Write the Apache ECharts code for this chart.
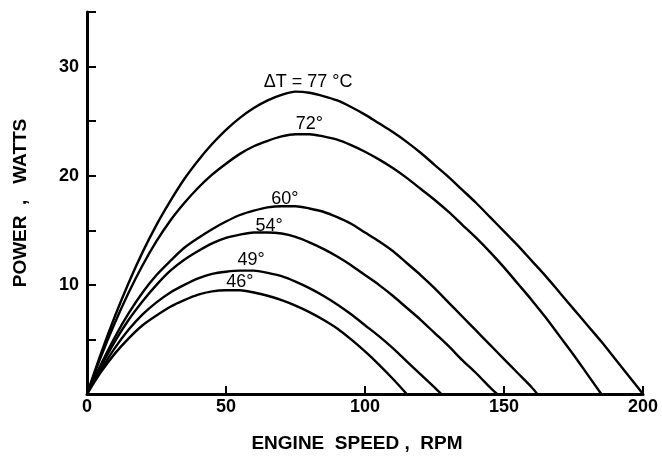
<!DOCTYPE html>
<html>
<head>
<meta charset="utf-8">
<script src="https://cdn.jsdelivr.net/npm/echarts@6/dist/echarts.min.js"></script>
<style>html,body{margin:0;padding:0;background:#fff;}#c{width:662px;height:458px;}</style>
</head>
<body>
<div id="c"></div>
<script>
// Engine speed (RPM) -> power (W), one curve per temperature difference
const speeds = [0,5,10,15,20,25,30,35,40,45,50,55,60,65,70,75,80,85,90,95,100,105,110,115,120,125,130,135,140,145,150,155,160,165,170,175,180,185,190,195,200];
const p77 = [0,3.7,7.1,10.2,13.0,15.5,17.7,19.7,21.4,22.9,24.2,25.3,26.2,26.9,27.4,27.7,27.6,27.3,26.9,26.3,25.6,24.8,24.0,23.1,22.1,21.0,19.9,18.7,17.5,16.2,14.9,13.6,12.2,10.8,9.3,7.8,6.3,4.8,3.2,1.6,0];
const p72 = [0,3.4,6.5,9.3,11.8,14.0,15.9,17.5,18.9,20.1,21.1,22.0,22.7,23.2,23.6,23.8,23.8,23.6,23.3,22.8,22.2,21.5,20.7,19.8,18.8,17.8,16.7,15.5,14.3,13.0,11.6,10.1,8.6,7.0,5.3,3.6,1.8,0];
const p60 = [0,2.7,5.2,7.4,9.3,10.9,12.2,13.4,14.3,15.1,15.8,16.4,16.8,17.1,17.2,17.2,17.0,16.7,16.2,15.6,14.8,14.0,13.1,12.0,10.9,9.7,8.4,7.1,5.8,4.5,3.2,1.9,0.6];
const p54 = [0,2.5,4.8,6.8,8.5,10.0,11.3,12.3,13.1,13.8,14.3,14.6,14.8,14.8,14.7,14.4,13.9,13.3,12.6,11.8,10.9,10.0,9.0,7.9,6.8,5.6,4.4,3.1,1.9,0.6];
const p49 = [0,2.2,4.2,5.9,7.3,8.4,9.3,10.0,10.6,11.0,11.2,11.3,11.3,11.1,10.8,10.3,9.7,9.0,8.2,7.3,6.3,5.3,4.2,3.0,1.8,0.6];
const p46 = [0,2.0,3.7,5.1,6.3,7.2,8.0,8.6,9.1,9.4,9.5,9.5,9.3,9.0,8.6,8.1,7.5,6.8,6.0,5.0,3.9,2.7,1.4,0];
// speed where each curve meets zero power (beyond the regular grid)
const endSpeed = {p60:162, p54:147.5, p49:127.5};
const curveLabels = [
  {text:'\u0394T = 77 \u00b0C', pos:[79.5,28.6]},
  {text:'72\u00b0', pos:[80,24.7]},
  {text:'60\u00b0', pos:[71.2,17.9]},
  {text:'54\u00b0', pos:[65.5,15.4]},
  {text:'49\u00b0', pos:[59,12.25]},
  {text:'46\u00b0', pos:[55,10.3]}
];
const xTicks = [0,50,100,150,200];
const yTickLabels = [10,20,30];

function pairs(vals, end) {
  const out = vals.map((v,i) => [speeds[i], v]);
  if (end !== undefined) out.push([end, 0]);
  return out;
}
const FONT = 'Liberation Sans, Arial, sans-serif';
const chart = echarts.init(document.getElementById('c'), null, {renderer:'canvas'});
const curves = [pairs(p77), pairs(p72), pairs(p60, endSpeed.p60), pairs(p54, endSpeed.p54), pairs(p49, endSpeed.p49), pairs(p46)];
const lineSeries = curves.map(d => ({
  type:'line', data:d, smooth:0.3, showSymbol:false, symbol:'none',
  lineStyle:{color:'#000', width:2.4}, z:3, silent:true
}));
const labelSeries = {
  type:'scatter', symbolSize:0, silent:true, z:4,
  itemStyle:{opacity:1},
  data: curveLabels.map(l => ({value:l.pos, name:l.text})),
  label:{show:true, position:'inside', formatter: p => p.name, opacity:1,
    color:'#000', fontFamily:FONT, fontSize:18}
};
chart.setOption({
  animation:false,
  backgroundColor:'#fff',
  grid:{left:87, right:19, top:12, bottom:59, containLabel:false},
  xAxis:{
    type:'value', min:0, max:200, interval:50,
    name:'ENGINE  SPEED ,  RPM', nameLocation:'middle', nameGap:40,
    nameTextStyle:{color:'#000', fontWeight:'bold', fontSize:19, fontFamily:FONT, padding:[0,16,0,0]},
    axisLine:{show:true, lineStyle:{color:'#000', width:3}},
    axisTick:{show:true, inside:true, length:8, lineStyle:{color:'#000', width:2}},
    axisLabel:{color:'#000', fontWeight:'bold', fontSize:18, margin:4, fontFamily:FONT,
      formatter: v => xTicks.includes(v) ? String(v) : ''},
    splitLine:{show:false}
  },
  yAxis:{
    type:'value', min:0, max:35, interval:5,
    name:'POWER  ,   WATTS', nameLocation:'middle', nameGap:57,
    nameTextStyle:{color:'#000', fontWeight:'bold', fontSize:19, fontFamily:FONT},
    axisLine:{show:true, lineStyle:{color:'#000', width:3}},
    axisTick:{show:true, inside:true, length:9, lineStyle:{color:'#000', width:2}},
    axisLabel:{color:'#000', fontWeight:'bold', fontSize:18, margin:8, fontFamily:FONT,
      formatter: v => yTickLabels.includes(v) ? String(v) : ''},
    splitLine:{show:false}
  },
  series: lineSeries.concat([labelSeries])
});
</script>
</body>
</html>
